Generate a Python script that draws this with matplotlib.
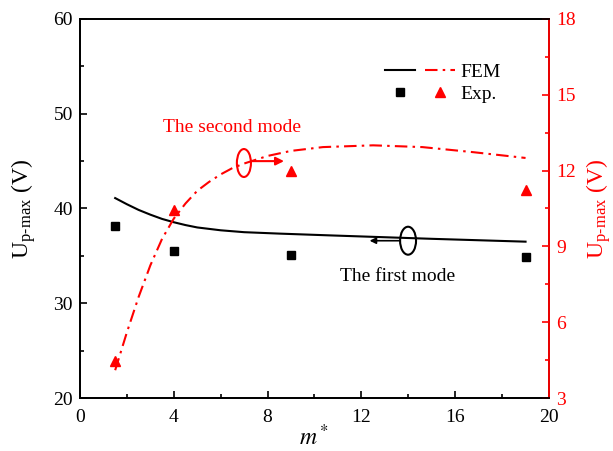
import matplotlib
matplotlib.use('Agg')
import matplotlib.pyplot as plt
from matplotlib.patches import Ellipse
from matplotlib.legend_handler import HandlerTuple
from matplotlib.ticker import MultipleLocator

plt.rcParams['font.family'] = 'Liberation Serif'
plt.rcParams['mathtext.fontset'] = 'stix'
plt.rcParams['font.size'] = 14

# first mode (left axis)
m_fem1 = [1.5, 2.0, 2.5, 3.0, 3.5, 4.0, 4.5, 5.0, 6.0, 7.0, 8.5, 10.8,
          15.0, 19.0]
u_fem1 = [41.1, 40.45, 39.85, 39.35, 38.9, 38.55, 38.25, 38.0, 37.7, 37.5,
          37.35, 37.15, 36.8, 36.5]
# second mode (right axis)
m_fem2 = [1.5, 2.0, 2.5, 3.0, 3.5, 4.0, 4.5, 5.0, 5.5, 6.0, 6.5, 7.0, 8.0,
          9.0, 10.36, 12.5, 14.6, 16.76, 19.0]
u_fem2 = [4.1, 5.6, 7.0, 8.25, 9.3, 10.1, 10.7, 11.2, 11.55, 11.85, 12.1,
          12.28, 12.58, 12.78, 12.93, 13.0, 12.93, 12.73, 12.5]

m_exp = [1.5, 4, 9, 19]
u_exp1 = [38.2, 35.5, 35.1, 34.9]
u_exp2 = [4.45, 10.45, 12.0, 11.25]

fig = plt.figure(figsize=(6.13, 4.51), dpi=100)
ax = fig.add_axes([0.1305, 0.1175, 0.7651, 0.8404])
ax2 = ax.twinx()

l1, = ax.plot(m_fem1, u_fem1, color='black', lw=1.5)
s1, = ax.plot(m_exp, u_exp1, 's', color='black', ms=6, ls='none')
l2, = ax2.plot(m_fem2, u_fem2, color='red', lw=1.5,
               linestyle=(0, (6, 2.5, 1.2, 2.5)))
s2, = ax2.plot(m_exp, u_exp2, '^', color='red', ms=7, ls='none')

ax.set_xlim(0, 20)
ax.set_ylim(20, 60)
ax2.set_ylim(3, 18)
ax.xaxis.set_major_locator(MultipleLocator(4))
ax.xaxis.set_minor_locator(MultipleLocator(2))
ax.yaxis.set_major_locator(MultipleLocator(10))
ax.yaxis.set_minor_locator(MultipleLocator(5))
ax2.yaxis.set_major_locator(MultipleLocator(3))
ax2.yaxis.set_minor_locator(MultipleLocator(1.5))

for a in (ax, ax2):
    for sp in a.spines.values():
        sp.set_linewidth(1.3)
ax.tick_params(which='both', direction='in', width=1.2, top=False,
               right=False, labelsize=14, pad=5)
ax.tick_params(axis='x', which='both', pad=8)
ax.tick_params(which='major', length=5)
ax.tick_params(which='minor', length=3)
ax2.tick_params(which='both', direction='in', width=1.2, colors='red',
                labelsize=14, pad=5)
ax2.tick_params(which='major', length=5)
ax2.tick_params(which='minor', length=3)
ax2.spines['right'].set_color('red')

ax.set_xlabel('$m^*$', fontsize=17)
ax.xaxis.set_label_coords(0.5, -0.07)
ax.set_ylabel(r'U$_{\mathregular{p\text{-}max}}$ (V)', fontsize=17)
ax.yaxis.set_label_coords(-0.09, 0.5)
ax2.set_ylabel(r'U$_{\mathregular{p\text{-}max}}$ (V)', fontsize=17,
               color='red')
ax2.yaxis.set_label_coords(1.075, 0.5)

# mode annotations
ax.text(3.54, 48.5, 'The second mode', color='red', fontsize=14,
        va='center', ha='left')
ax.add_patch(Ellipse((6.99, 44.8), 0.6, 2.95, fill=False, ec='red', lw=1.5))
ax.annotate('', xy=(8.7, 45.0), xytext=(7.29, 45.0),
            arrowprops=dict(arrowstyle='-|>', color='red', lw=1.5,
                            mutation_scale=12, shrinkA=0, shrinkB=0))
ax.text(11.09, 32.8, 'The first mode', color='black', fontsize=14,
        va='center', ha='left')
ax.add_patch(Ellipse((13.99, 36.6), 0.68, 2.95, fill=False, ec='black',
                     lw=1.5))
ax.annotate('', xy=(12.35, 36.6), xytext=(13.65, 36.6),
            arrowprops=dict(arrowstyle='-|>', color='black', lw=1.2,
                            mutation_scale=9, shrinkA=0, shrinkB=0))

leg = ax.legend([(l1, l2), (s1, s2)], ['FEM', 'Exp.'],
                handler_map={tuple: HandlerTuple(ndivide=None, pad=0.5)},
                loc='upper right', bbox_to_anchor=(0.935, 0.93),
                frameon=False, fontsize=14, handlelength=3.6,
                handletextpad=0.3, labelspacing=0.25)

fig.savefig('out.png', dpi=100)
